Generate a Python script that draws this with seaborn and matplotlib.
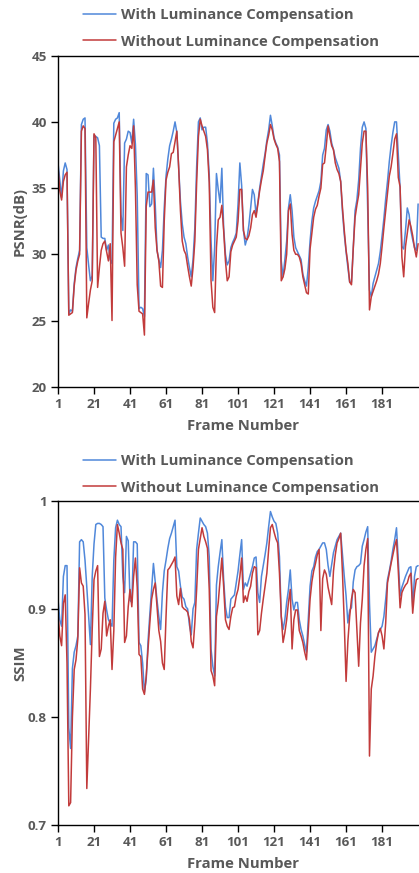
import matplotlib
matplotlib.use('Agg')
import matplotlib.pyplot as plt
from matplotlib.ticker import FuncFormatter
import pandas as pd
import seaborn as sns

# frame index and the four measured series
frames = list(range(1, 202))

psnr_with = [
    36.9, 35.6, 34.3, 36.3, 36.9, 36.4, 25.5, 25.8, 25.7, 27.8,
    29.0, 29.7, 30.3, 39.8, 40.2, 40.3, 30.5, 29.2, 28.0, 28.4,
    39.0, 38.9, 38.8, 38.2, 31.3, 31.2, 31.2, 30.3, 30.7, 29.6,
    29.3, 39.9, 40.2, 40.3, 40.7, 33.0, 31.8, 38.4, 38.7, 39.3,
    39.2, 38.4, 40.2, 38.3, 34.4, 25.9, 26.0, 25.9, 25.3, 36.1,
    36.0, 33.6, 33.8, 36.5, 33.8, 30.3, 29.6, 29.0, 30.3, 33.5,
    35.9, 37.2, 38.2, 38.7, 39.3, 40.0, 39.2, 36.6, 34.0, 32.3,
    31.3, 30.8, 29.8, 29.0, 28.3, 29.6, 32.0, 36.6, 40.0, 40.3,
    39.4, 39.6, 39.6, 38.4, 36.0, 31.0, 28.0, 30.5, 36.1, 34.9,
    33.9, 36.5, 32.0, 30.0, 29.2, 29.5, 30.5, 30.9, 31.2, 31.6,
    33.8, 36.9, 35.2, 31.8, 30.7, 31.2, 32.2, 33.5, 34.9, 34.5,
    33.0, 33.9, 35.0, 35.9, 36.8, 37.6, 38.6, 39.4, 40.5, 39.7,
    38.8, 38.4, 38.1, 37.5, 29.5, 28.3, 29.6, 31.0, 33.5, 34.5,
    33.3, 31.3, 30.5, 30.2, 29.9, 29.6, 28.5, 28.0, 27.6, 29.0,
    31.0, 32.5, 33.5, 34.0, 34.4, 34.8, 35.5, 37.5, 38.0, 39.4,
    39.8, 39.3, 38.4, 37.9, 37.3, 36.9, 36.5, 35.5, 33.2, 31.5,
    30.2, 29.0, 27.9, 27.9, 30.5, 33.3, 34.1, 35.6, 38.0, 39.6,
    40.0, 39.5, 33.5, 27.3, 26.8, 27.8, 28.3, 28.8, 29.3, 30.2,
    31.4, 32.7, 34.2, 35.5, 37.0, 38.2, 39.2, 40.0, 40.0, 37.5,
    35.0, 30.6, 30.4, 31.8, 33.5, 33.0, 31.8, 31.1, 30.5, 30.3,
    33.8,
]

psnr_without = [
    36.6, 34.8, 34.1, 35.5, 36.0, 36.2, 25.4, 25.5, 25.6, 27.6,
    28.8, 29.5, 30.0, 39.3, 39.7, 39.5, 25.2, 26.3, 27.3, 28.0,
    39.1, 38.8, 27.5, 29.0, 30.3, 30.8, 31.0, 30.2, 29.5, 30.8,
    25.0, 38.5, 39.0, 39.5, 40.0, 31.6, 30.5, 29.1, 36.6, 37.5,
    38.2, 38.0, 39.7, 35.0, 27.7, 25.7, 25.6, 25.5, 23.9, 33.6,
    34.7, 34.7, 34.7, 35.6, 32.0, 30.3, 29.5, 27.6, 27.5, 32.5,
    35.6, 36.2, 36.6, 37.6, 37.7, 38.5, 39.3, 36.6, 33.3, 31.0,
    30.3, 30.0, 29.1, 28.3, 27.6, 29.0, 31.0, 35.4, 38.9, 40.2,
    39.7, 39.3, 38.9, 37.9, 35.4, 28.0, 26.0, 25.6, 30.5, 32.6,
    32.8, 33.7, 31.8, 29.5, 28.0, 28.3, 30.2, 30.7, 31.0, 31.3,
    32.5, 34.9, 34.9, 31.8, 31.2, 31.1, 31.4, 32.0, 33.0, 33.3,
    32.8, 33.8, 34.8, 35.6, 36.3, 37.4, 38.4, 39.0, 39.8, 39.4,
    38.7, 38.3, 38.0, 37.0, 28.0, 28.3, 28.9, 30.0, 33.3, 33.8,
    31.5, 30.3, 30.0, 30.0, 29.8, 29.3, 28.3, 27.7, 27.1, 27.0,
    30.4, 31.6, 32.8, 33.4, 33.7, 34.4, 35.0, 36.8, 36.9, 38.2,
    39.7, 38.9, 38.2, 37.9, 36.9, 36.4, 36.1, 35.5, 33.5, 31.8,
    30.3, 29.3, 27.9, 27.7, 30.5, 32.8, 33.7, 34.5, 36.5, 38.4,
    39.3, 39.3, 35.0, 25.8, 26.8, 27.2, 27.6, 28.0, 28.5, 29.3,
    30.6, 32.0, 33.3, 34.6, 35.9, 36.6, 37.6, 38.7, 39.1, 35.8,
    35.1, 29.8, 28.3, 30.6, 31.6, 32.6, 32.1, 31.4, 30.5, 29.8,
    30.8,
]

ssim_with = [
    .909, .890, .884, .930, .940, .940, .790, .771, .845, .860,
    .866, .875, .962, .964, .962, .945, .920, .893, .867, .930,
    .960, .978, .979, .979, .978, .976, .910, .899, .890, .887,
    .884, .945, .975, .982, .978, .976, .930, .915, .967, .963,
    .908, .906, .962, .962, .960, .869, .866, .850, .823, .835,
    .870, .895, .918, .942, .925, .908, .893, .881, .915, .935,
    .945, .956, .965, .970, .976, .982, .939, .935, .921, .911,
    .909, .902, .900, .885, .876, .900, .906, .955, .970, .984,
    .981, .978, .976, .970, .948, .863, .847, .838, .922, .939,
    .952, .964, .927, .902, .892, .892, .909, .911, .913, .924,
    .935, .950, .964, .918, .924, .921, .927, .933, .939, .947,
    .948, .915, .906, .930, .940, .950, .961, .976, .990, .985,
    .981, .979, .970, .948, .893, .881, .890, .906, .918, .936,
    .909, .899, .906, .906, .890, .881, .875, .867, .860, .890,
    .921, .935, .939, .948, .953, .955, .958, .961, .961, .955,
    .940, .930, .941, .952, .958, .964, .967, .970, .950, .930,
    .912, .887, .899, .901, .925, .936, .939, .940, .942, .958,
    .964, .971, .976, .905, .860, .863, .866, .872, .878, .881,
    .884, .893, .909, .927, .935, .944, .955, .964, .975, .945,
    .912, .920, .925, .930, .934, .938, .939, .902, .930, .939,
    .940,
]

ssim_without = [
    .896, .875, .866, .905, .913, .850, .718, .721, .800, .844,
    .853, .872, .938, .924, .921, .895, .734, .780, .826, .881,
    .927, .935, .940, .856, .863, .896, .907, .875, .884, .890,
    .844, .880, .948, .978, .970, .961, .955, .869, .875, .902,
    .918, .902, .930, .947, .920, .858, .856, .826, .821, .838,
    .863, .887, .909, .918, .924, .902, .880, .870, .850, .844,
    .893, .936, .938, .941, .944, .948, .912, .904, .919, .902,
    .900, .899, .897, .890, .870, .864, .887, .918, .955, .965,
    .975, .967, .962, .956, .918, .843, .838, .829, .893, .906,
    .927, .947, .921, .890, .884, .881, .893, .901, .902, .912,
    .918, .930, .947, .906, .912, .907, .916, .921, .933, .939,
    .938, .876, .880, .896, .909, .921, .933, .955, .975, .978,
    .971, .965, .961, .933, .893, .869, .878, .890, .906, .918,
    .863, .890, .899, .899, .880, .875, .869, .860, .853, .880,
    .909, .925, .935, .942, .950, .955, .880, .928, .936, .932,
    .920, .912, .904, .935, .950, .961, .965, .970, .933, .887,
    .833, .870, .893, .909, .918, .915, .881, .847, .887, .909,
    .940, .955, .965, .764, .826, .838, .856, .869, .878, .882,
    .875, .863, .887, .924, .933, .942, .950, .958, .964, .935,
    .901, .915, .919, .922, .924, .930, .933, .896, .915, .927,
    .928,
]

series_names = ['With Luminance Compensation', 'Without Luminance Compensation']
x_ticks = [1, 21, 41, 61, 81, 101, 121, 141, 161, 181]
psnr_ticks = [20, 25, 30, 35, 40, 45]
ssim_ticks = [0.7, 0.8, 0.9, 1.0]

sns.set_style('ticks')
plt.rcParams['font.family'] = ['Open Sans', 'DejaVu Sans']
plt.rcParams['font.weight'] = 'bold'

text_gray = '#595959'
palette = {series_names[0]: '#5088DA', series_names[1]: '#C23B3B'}


def long_form(with_vals, without_vals):
    df = pd.DataFrame({'frame': frames,
                       series_names[0]: with_vals,
                       series_names[1]: without_vals})
    return df.melt(id_vars='frame', var_name='series', value_name='value')


fig = plt.figure(figsize=(4.19, 8.73), dpi=100)
ax1 = fig.add_axes([58 / 419, 1 - 386.7 / 873, 361 / 419, 331 / 873])
ax2 = fig.add_axes([58 / 419, 1 - 825.3 / 873, 361 / 419, 324.6 / 873])

panels = [
    (ax1, long_form(psnr_with, psnr_without), 'PSNR(dB)', psnr_ticks, (20, 45), 8),
    (ax2, long_form(ssim_with, ssim_without), 'SSIM', ssim_ticks, (0.7, 1.0), 454),
]

for ax, df, ylabel, yticks, ylim, legend_top in panels:
    sns.lineplot(data=df, x='frame', y='value', hue='series', palette=palette,
                 hue_order=series_names, linewidth=1.1, ax=ax, legend=False)
    ax.set_xlim(1, 201.5)
    ax.set_ylim(*ylim)
    ax.set_xticks(x_ticks)
    ax.set_yticks(yticks)
    ax.yaxis.set_major_formatter(FuncFormatter(lambda v, p: '{:g}'.format(round(v, 2))))
    ax.spines['right'].set_visible(False)
    for s in ['left', 'bottom', 'top']:
        ax.spines[s].set_color('black')
        ax.spines[s].set_linewidth(1.0)
    ax.tick_params(direction='out', length=5, width=1.0, colors='black',
                   labelcolor=text_gray, labelsize=9.6, pad=3)
    for lbl in ax.get_xticklabels() + ax.get_yticklabels():
        lbl.set_fontweight('bold')
    ax.set_xlabel('Frame Number', fontsize=10.7, fontweight='bold', color=text_gray)
    ax.set_ylabel(ylabel, fontsize=10.7, fontweight='bold', color=text_gray)
    # label centres: x label ~39 px under the spine, y label at x = 20 px
    ax.xaxis.set_label_coords(185 / 361, -39 / ax.bbox.height)
    ax.xaxis.label.set_va('center')
    ax.yaxis.set_label_coords(-38 / ax.bbox.width, 0.5)
    ax.yaxis.label.set_va('center')

    handles = [plt.Line2D([], [], color=palette[n], linewidth=1.1) for n in series_names]
    fig.legend(handles, series_names, loc='upper left',
               bbox_to_anchor=(83 / 419, 1 - legend_top / 873),
               frameon=False, handlelength=2.2, handletextpad=0.35,
               labelspacing=0.85, borderpad=0, borderaxespad=0,
               labelcolor=text_gray, prop={'weight': 'bold', 'size': 10.7})

fig.savefig('out.png', dpi=100)
plt.close(fig)
